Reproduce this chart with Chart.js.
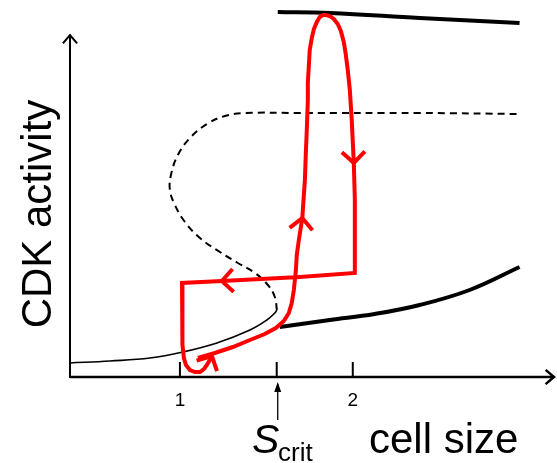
<!DOCTYPE html>
<html>
<head>
<meta charset="utf-8">
<script src="https://cdn.jsdelivr.net/npm/chart.js@4"></script>
<style>
  html, body { margin: 0; padding: 0; background: #fff; }
  #wrap { width: 557px; height: 463px; }
</style>
</head>
<body>
<div id="wrap"><canvas id="bifChart" width="557" height="463"></canvas></div>
<script>
// x = cell size, y = CDK activity (arbitrary units)
let xTicks = [1, 2];
let xTickLabels = ["1", "2"];
let sCrit = 1.56;

// lower stable branch (thin part, up to the fold at S_crit)
let lowThinX = [0.364, 0.595, 0.827, 1.017, 1.214, 1.405, 1.503, 1.549, 1.561];
let lowThinY = [0.14, 0.16, 0.19, 0.25, 0.34, 0.47, 0.57, 0.64, 0.67];

// lower stable branch beyond S_crit (thick)
let lowThickX = [1.578, 1.867, 2.127, 2.387, 2.676, 2.965];
let lowThickY = [0.50, 0.57, 0.63, 0.72, 0.87, 1.10];

// unstable branch (dashed)
let unstableX = [1.561, 1.549, 1.509, 1.434, 1.335, 1.231, 1.116, 1.029, 0.971, 0.942,
  0.948, 0.988, 1.058, 1.156, 1.260, 1.376, 1.694, 2.387, 2.977];
let unstableY = [0.67, 0.80, 0.92, 1.04, 1.14, 1.25, 1.39, 1.55, 1.72, 1.87,
  2.02, 2.22, 2.39, 2.53, 2.61, 2.64, 2.64, 2.64, 2.63];

// upper stable branch
let upperX = [1.566, 1.867, 2.387, 2.965];
let upperY = [3.65, 3.64, 3.59, 3.54];

// cell cycle trajectory (red)
let cycleX = [1.104, 1.202, 1.306, 1.405, 1.491, 1.555, 1.601, 1.630, 1.647, 1.659,
  1.671, 1.676, 1.688, 1.708, 1.717, 1.723, 1.728, 1.734, 1.740, 1.740,
  1.746, 1.751, 1.763, 1.775, 1.792, 1.809, 1.827, 1.844, 1.867, 1.890,
  1.913, 1.931, 1.948, 1.960, 1.971, 1.983, 1.994, 2.006, 2.012, 2.012,
  2.012, 1.694, 1.243, 1.012, 1.012, 1.017, 1.023, 1.035, 1.058, 1.087,
  1.116, 1.139, 1.156, 1.173, 1.185];
let cycleY = [0.19, 0.24, 0.30, 0.37, 0.43, 0.49, 0.56, 0.64, 0.74, 0.87,
  1.07, 1.22, 1.37, 1.59, 1.82, 1.97, 2.22, 2.47, 2.77, 2.94,
  3.12, 3.27, 3.39, 3.48, 3.55, 3.60, 3.62, 3.62, 3.61, 3.58,
  3.53, 3.46, 3.35, 3.22, 3.07, 2.87, 2.57, 2.14, 1.77, 1.37,
  1.04, 1.00, 0.96, 0.94, 0.57, 0.32, 0.19, 0.12, 0.07, 0.05,
  0.05, 0.08, 0.12, 0.17, 0.21];
// points of the trajectory that carry a direction arrow
let arrowAt = [13, 37, 42, 54];

const FONT = "Arial, 'Liberation Sans', sans-serif";
const pts = (xs, ys) => xs.map((x, i) => ({ x: x, y: ys[i] }));

function chevron(ctx, x, y, ang, len, spread) {
  ctx.beginPath();
  ctx.moveTo(x - len * Math.cos(ang - spread), y - len * Math.sin(ang - spread));
  ctx.lineTo(x, y);
  ctx.lineTo(x - len * Math.cos(ang + spread), y - len * Math.sin(ang + spread));
  ctx.stroke();
}

// axes with arrows, ticks, tick labels and titles
const axesPlugin = {
  id: "axesPlugin",
  beforeDatasetsDraw(chart) {
    const ctx = chart.ctx;
    const xs = chart.scales.x, ys = chart.scales.y;
    const x0 = xs.left, y0 = ys.getPixelForValue(0);
    ctx.save();
    ctx.strokeStyle = "#000";
    ctx.lineCap = "butt";
    // x axis
    ctx.lineWidth = 2.5;
    ctx.beginPath();
    ctx.moveTo(x0, y0);
    ctx.lineTo(xs.right - 1, y0);
    ctx.stroke();
    chevron(ctx, xs.right - 1, y0, 0, 11, 0.7);
    // y axis
    ctx.lineWidth = 2;
    ctx.beginPath();
    ctx.moveTo(x0, y0 + 1);
    ctx.lineTo(x0, 35);
    ctx.stroke();
    chevron(ctx, x0, 35, -Math.PI / 2, 11, 0.7);
    // ticks
    ctx.lineWidth = 2;
    xTicks.concat([sCrit]).forEach((v) => {
      const px = xs.getPixelForValue(v);
      ctx.beginPath();
      ctx.moveTo(px, y0);
      ctx.lineTo(px, y0 - 15);
      ctx.stroke();
    });
    ctx.fillStyle = "#000";
    ctx.font = "19px " + FONT;
    ctx.textAlign = "center";
    ctx.textBaseline = "alphabetic";
    xTicks.forEach((v, i) => {
      ctx.fillText(xTickLabels[i], xs.getPixelForValue(v), 406);
    });
    // S_crit pointer
    const sx = xs.getPixelForValue(sCrit) + 1;
    ctx.lineWidth = 1.3;
    ctx.beginPath();
    ctx.moveTo(sx, 420);
    ctx.lineTo(sx, 384);
    ctx.stroke();
    ctx.beginPath();
    ctx.moveTo(sx, 382);
    ctx.lineTo(sx - 3.5, 392);
    ctx.lineTo(sx + 3.5, 392);
    ctx.closePath();
    ctx.fill();
    ctx.textAlign = "left";
    ctx.font = "italic 41px " + FONT;
    ctx.fillText("S", 252, 453);
    ctx.font = "26px " + FONT;
    ctx.fillText("crit", 278, 461);
    ctx.font = "42px " + FONT;
    ctx.fillText("cell size", 369, 453);
    // y title
    ctx.translate(51, 214);
    ctx.rotate(-Math.PI / 2);
    ctx.textAlign = "center";
    ctx.fillText("CDK activity", 0, 0);
    ctx.restore();
  },
};

// direction arrowheads on the trajectory
const arrowPlugin = {
  id: "arrowPlugin",
  afterDatasetsDraw(chart) {
    const ctx = chart.ctx;
    const xs = chart.scales.x, ys = chart.scales.y;
    const px = (i) => xs.getPixelForValue(cycleX[i]);
    const py = (i) => ys.getPixelForValue(cycleY[i]);
    ctx.save();
    ctx.strokeStyle = "#ff0000";
    ctx.lineWidth = 4;
    ctx.lineCap = "butt";
    arrowAt.forEach((i) => {
      const a = i - 1;
      const b = Math.min(i + 1, cycleX.length - 1);
      const ang = Math.atan2(py(b) - py(a), px(b) - px(a));
      chevron(ctx, px(i), py(i), ang, 16, 0.8);
    });
    ctx.restore();
  },
};

let ctx = document.getElementById("bifChart").getContext("2d");
let bifChart = new Chart(ctx, {
  type: "scatter",
  data: {
    datasets: [
      {
        label: "cell cycle",
        data: pts(cycleX, cycleY),
        showLine: true,
        borderColor: "#ff0000",
        borderWidth: 4,
        pointRadius: 0,
        tension: 0,
      },
      {
        label: "lower branch",
        data: pts(lowThinX, lowThinY),
        showLine: true,
        borderColor: "#000",
        borderWidth: 1.6,
        pointRadius: 0,
        tension: 0.4,
      },
      {
        label: "lower branch (large)",
        data: pts(lowThickX, lowThickY),
        showLine: true,
        borderColor: "#000",
        borderWidth: 4,
        pointRadius: 0,
        tension: 0.4,
      },
      {
        label: "unstable",
        data: pts(unstableX, unstableY),
        showLine: true,
        borderColor: "#000",
        borderWidth: 2,
        borderDash: [7, 5],
        pointRadius: 0,
        tension: 0.4,
      },
      {
        label: "upper branch",
        data: pts(upperX, upperY),
        showLine: true,
        borderColor: "#000",
        borderWidth: 4,
        pointRadius: 0,
        tension: 0.4,
      },
    ],
  },
  options: {
    responsive: false,
    animation: false,
    layout: { padding: { left: 70, right: 2, top: 0, bottom: 86 } },
    scales: {
      x: { type: "linear", display: false, min: 0.364, max: 3.17 },
      y: { type: "linear", display: false, min: 0, max: 3.77 },
    },
    plugins: {
      legend: { display: false },
      tooltip: { enabled: false },
    },
  },
  plugins: [axesPlugin, arrowPlugin],
});
</script>
</body>
</html>
